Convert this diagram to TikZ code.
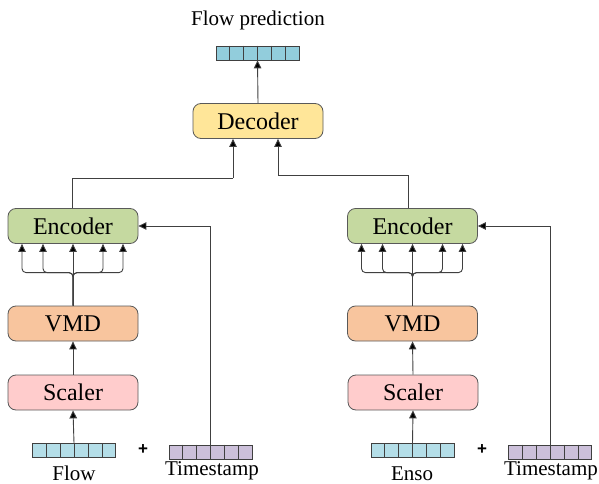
\documentclass[tikz,border=0pt]{standalone}
\usepackage{fontspec}
\setmainfont{Liberation Serif}
\newfontfamily\plusfont{Liberation Sans}
\usetikzlibrary{arrows.meta,calc}
\definecolor{decfill}{HTML}{FFE699}
\definecolor{encfill}{HTML}{C5D9A0}
\definecolor{vmdfill}{HTML}{F8C59E}
\definecolor{scfill}{HTML}{FFCCCC}
\definecolor{flowfill}{HTML}{B4DEE8}
\definecolor{outfill}{HTML}{92CDDC}
\definecolor{tsfill}{HTML}{CCC0DA}
\definecolor{linec}{HTML}{404040}
\tikzset{
  blockbox/.style={draw=black!65, line width=0.8pt, rounded corners=8pt,
    minimum width=130pt, minimum height=35pt, inner sep=0pt,
    font=\fontsize{24}{27}\selectfont},
  arraybox/.style={draw=black!75, line width=0.7pt, minimum width=83pt,
    minimum height=14pt, inner sep=0pt},
  lbl/.style={font=\fontsize{21}{24}\selectfont, inner sep=0pt},
  plusl/.style={font=\plusfont\bfseries\fontsize{17}{20}\selectfont, inner sep=0pt},
  arr/.style={draw=linec, line width=0.9pt, -{Triangle[length=8pt,width=7.5pt,fill=black]}},
  bus/.style={arr, rounded corners=4pt},
}
\newcommand{\cells}[1]{%
  \foreach \k in {1,...,5} {
    \draw[black!75, line width=0.7pt] ($(#1.north west)!\k/6!(#1.north east)$) -- ($(#1.south west)!\k/6!(#1.south east)$);
  }}
\begin{document}
\begin{tikzpicture}[x=1pt,y=-1pt]
\useasboundingbox (0,0) rectangle (599,484);
% blocks
\node[blockbox, fill=decfill] (dec) at (258,121) {Decoder};
\node[blockbox, fill=encfill] (encL) at (73,226) {Encoder};
\node[blockbox, fill=encfill] (encR) at (412.5,226) {Encoder};
\node[blockbox, fill=vmdfill] (vmdL) at (73,323.5) {VMD};
\node[blockbox, fill=vmdfill] (vmdR) at (412.5,323.5) {VMD};
\node[blockbox, fill=scfill] (scL) at (73,392.5) {Scaler};
\node[blockbox, fill=scfill] (scR) at (413,392.5) {Scaler};
% arrays
\node[arraybox, fill=outfill] (out) at (257.5,53) {};
\node[arraybox, fill=flowfill] (flow) at (74,450.5) {};
\node[arraybox, fill=tsfill] (tsL) at (210.5,452) {};
\node[arraybox, fill=flowfill] (enso) at (412.5,450.5) {};
\node[arraybox, fill=tsfill] (tsR) at (550,452) {};
\cells{out}\cells{flow}\cells{tsL}\cells{enso}\cells{tsR}
% labels
\node[lbl] (tout) at (258,20) {Flow prediction};
\node[lbl] (tflow) at (74,473) {Flow};
\node[lbl] (ttsL) at (212,471) {Timestamp};
\node[lbl] (tenso) at (412,474) {Enso};
\node[lbl] (ttsR) at (551,471) {Timestamp};
\node[plusl] (pL) at (143,450) {+};
\node[plusl] (pR) at (482,450) {+};
% connectors
\draw[arr] (dec.north) -- (out.south);
\coordinate (dl) at (233,178);
\coordinate (dr) at (278,175);
\draw[draw=linec, line width=0.9pt] ([xshift=-1pt]encL.north) |- (dl);
\draw[arr] (dl) -- (dl |- dec.south);
\draw[draw=linec, line width=0.9pt] ([xshift=-4pt]encR.north) |- (dr);
\draw[arr] (dr) -- (dr |- dec.south);
\draw[arr] (tsL.north) |- (encL.east);
\draw[arr] (tsR.north) |- (encR.east);
\draw[arr] (flow.north) -- (scL.south);
\draw[arr] (enso.north) -- (scR.south);
\draw[arr] (scL.north) -- (vmdL.south);
\draw[arr] (scR.north) -- (vmdR.south);
% buses
\foreach \dx in {-51,-30,30,50} {
  \draw[bus] (vmdL.north) -- ++(0,-33) -- ++(\dx,0) -- ([xshift=\dx]encL.south);
  \draw[bus] (vmdR.north) -- ++(0,-33) -- ++(\dx,0) -- ([xshift=\dx]encR.south);
}
\draw[arr] (vmdL.north) -- (encL.south);
\draw[arr] (vmdR.north) -- (encR.south);
\end{tikzpicture}
\end{document}
